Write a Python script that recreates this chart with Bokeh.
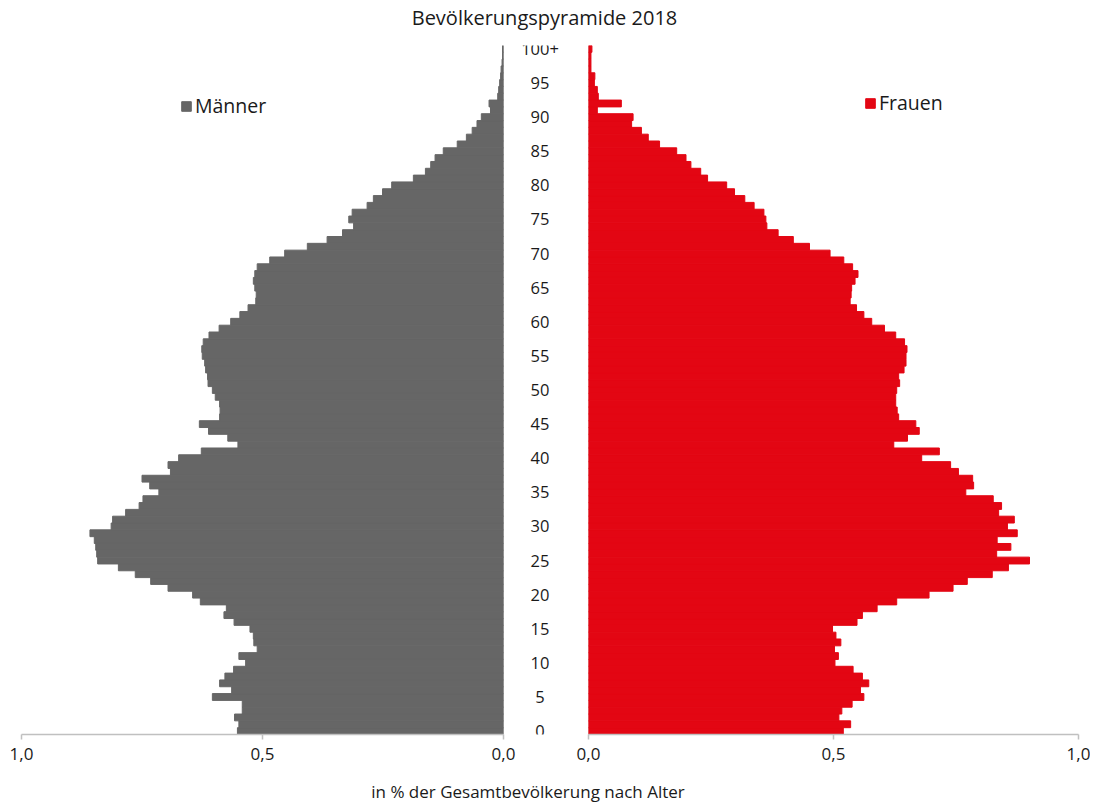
from bokeh.plotting import figure
from bokeh.layouts import column, row
from bokeh.models import (Range1d, ColumnDataSource, Legend, LegendItem,
                          CustomJSTickFormatter, FixedTicker, Span)
from bokeh.core.properties import value
from bokeh.embed import file_html
from bokeh.resources import INLINE

# ---------------- data ----------------
ages = list(range(101))
age_tick_ages = list(range(0, 101, 5))
age_tick_labels = [str(a) for a in range(0, 100, 5)] + ["100+"]
x_ticks = [0.0, 0.5, 1.0]

title_text = "Bevölkerungspyramide 2018"
axis_title = "in % der Gesamtbevölkerung nach Alter"
male_label = "Männer"
female_label = "Frauen"

males = [
    0.552, 0.549, 0.558, 0.542, 0.542, 0.604, 0.564, 0.589, 0.578, 0.560,
    0.535, 0.549, 0.511, 0.518, 0.519, 0.526, 0.559, 0.580, 0.575, 0.629,
    0.645, 0.696, 0.732, 0.764, 0.799, 0.842, 0.844, 0.846, 0.849, 0.858,
    0.814, 0.811, 0.784, 0.756, 0.748, 0.715, 0.734, 0.750, 0.691, 0.696,
    0.674, 0.627, 0.551, 0.572, 0.612, 0.631, 0.589, 0.588, 0.589, 0.598,
    0.604, 0.613, 0.614, 0.618, 0.620, 0.625, 0.626, 0.623, 0.611, 0.590,
    0.566, 0.547, 0.530, 0.514, 0.513, 0.516, 0.519, 0.516, 0.511, 0.485,
    0.454, 0.407, 0.366, 0.334, 0.311, 0.321, 0.314, 0.283, 0.270, 0.251,
    0.232, 0.187, 0.162, 0.151, 0.142, 0.125, 0.096, 0.077, 0.065, 0.055,
    0.046, 0.027, 0.030, 0.012, 0.010, 0.008, 0.006, 0.005, 0.003, 0.002,
    0.002,
]

females = [
    0.520, 0.535, 0.511, 0.517, 0.538, 0.562, 0.555, 0.572, 0.559, 0.540,
    0.503, 0.510, 0.502, 0.515, 0.505, 0.498, 0.548, 0.559, 0.589, 0.629,
    0.695, 0.744, 0.773, 0.824, 0.857, 0.900, 0.833, 0.862, 0.834, 0.875,
    0.855, 0.869, 0.837, 0.843, 0.826, 0.770, 0.786, 0.784, 0.755, 0.739,
    0.680, 0.716, 0.623, 0.651, 0.675, 0.668, 0.633, 0.630, 0.627, 0.627,
    0.629, 0.635, 0.633, 0.644, 0.648, 0.648, 0.650, 0.645, 0.627, 0.604,
    0.578, 0.562, 0.547, 0.534, 0.536, 0.537, 0.544, 0.550, 0.539, 0.521,
    0.493, 0.451, 0.418, 0.387, 0.364, 0.362, 0.358, 0.338, 0.319, 0.298,
    0.282, 0.243, 0.229, 0.209, 0.199, 0.180, 0.145, 0.122, 0.108, 0.088,
    0.091, 0.018, 0.067, 0.020, 0.018, 0.012, 0.013, 0.005, 0.005, 0.005,
    0.007,
]

# ---------------- style ----------------
FONT = "Open Sans"
GRAY = "#666666"
RED = "#e30613"
AXIS = "#c0c0c0"
TXT = "#1a1a1a"
FRAME_H = 689
TOP = 10
BOTTOM = 36
ROW_H = TOP + FRAME_H + BOTTOM
GAP_BORDER = 16

src = ColumnDataSource(dict(age=ages, m=males, f=females))
yr = Range1d(-0.5, 100.5)


def base(width, x_range, left=0, right=0, xloc="below"):
    p = figure(width=width, height=ROW_H, x_range=x_range, y_range=yr,
               output_backend="svg", toolbar_location=None,
               min_border_top=TOP, min_border_bottom=BOTTOM,
               min_border_left=left, min_border_right=right,
               y_axis_location=None, x_axis_location=xloc)
    p.grid.visible = False
    p.outline_line_color = None
    p.background_fill_color = "white"
    p.border_fill_color = "white"
    return p


def style_x(p):
    ax = p.xaxis[0]
    ax.ticker = FixedTicker(ticks=x_ticks)
    ax.formatter = CustomJSTickFormatter(code="return tick.toFixed(1).replace('.', ',');")
    ax.axis_line_color = AXIS
    ax.axis_line_width = 1.5
    ax.major_tick_line_color = AXIS
    ax.major_tick_line_width = 1.5
    ax.major_tick_in = 0
    ax.major_tick_out = 5
    ax.minor_tick_line_color = None
    ax.major_label_text_font = FONT
    ax.major_label_text_font_size = "17px"
    ax.major_label_text_color = TXT
    ax.major_label_standoff = 8


def add_legend(p, r, label, loc):
    lg = Legend(items=[LegendItem(label=label, renderers=[r])], location=loc,
                glyph_width=12, glyph_height=12, label_standoff=3,
                label_text_font=FONT, label_text_font_size="19.5px",
                label_text_color=TXT, padding=0, margin=0, spacing=0,
                border_line_color=None, background_fill_alpha=0)
    p.add_layout(lg)


# left: Männer
left = base(503 + GAP_BORDER, Range1d(1.0, 0.0), left=21, right=GAP_BORDER)
left.add_layout(Span(location=0, dimension="height", line_color=AXIS, line_width=1.5, level="underlay"))
rm = left.hbar(y="age", left=0, right="m", height=1.0, source=src,
               fill_color=GRAY, line_color=GRAY, line_width=1)
style_x(left)
add_legend(left, rm, male_label, (159, 615))

# middle: age labels
mid = base(85 - 2 * GAP_BORDER, Range1d(-1, 1), xloc=None)
mid.text(x=0, y="age", text="lab",
         source=ColumnDataSource(dict(age=age_tick_ages, lab=age_tick_labels)),
         text_align="center", text_baseline="middle", x_offset=-6,
         text_font=value(FONT), text_font_size="16.5px", text_color=TXT)

# right: Frauen
right = base(502 + GAP_BORDER, Range1d(0.0, 1.0), left=GAP_BORDER, right=12)
right.add_layout(Span(location=0, dimension="height", line_color=AXIS, line_width=1.5, level="underlay"))
rf = right.hbar(y="age", left=0, right="f", height=1.0, source=src,
                fill_color=RED, line_color=RED, line_width=1)
style_x(right)
add_legend(right, rf, female_label, (276, 618))


def text_fig(width, height, txt, xfrac, yfrac, size):
    p = figure(width=width, height=height, x_range=Range1d(0, 1), y_range=Range1d(0, 1),
               output_backend="svg", toolbar_location=None,
               min_border=0, x_axis_location=None, y_axis_location=None)
    p.grid.visible = False
    p.outline_line_color = None
    p.text(x=[xfrac], y=[yfrac], text=[txt], text_align="center", text_baseline="middle",
           text_font=value(FONT), text_font_size=size, text_color=TXT)
    return p


TOP_H = 45 - TOP
FOOT_H = 34
title_fig = text_fig(1090, TOP_H, title_text, 544 / 1090, 1 - 17 / TOP_H, "20px")
foot_fig = text_fig(1090, FOOT_H, axis_title, 527.5 / 1090, 1 - 21 / FOOT_H, "17px")

layout = column(title_fig, row(left, mid, right), foot_fig)

open("out.html", "w").write(file_html(layout, INLINE))
